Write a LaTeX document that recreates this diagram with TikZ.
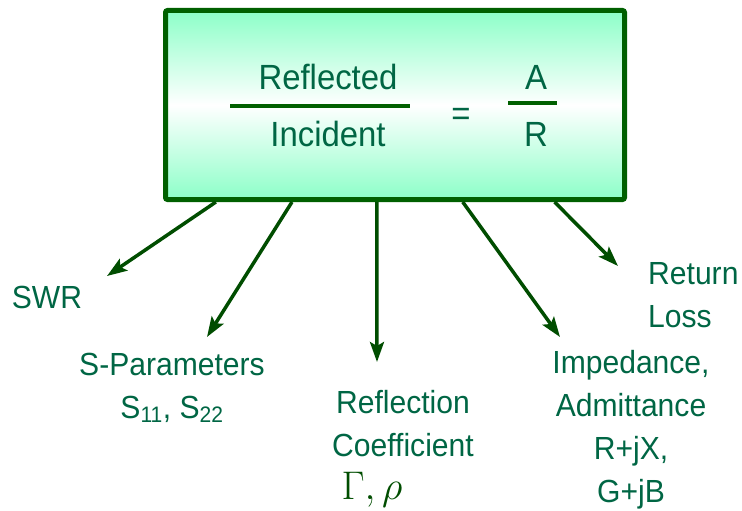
\documentclass[tikz,border=0pt]{standalone}
\usepackage{fix-cm}
\usepackage{fontspec}
\setmainfont[FakeStretch=0.94]{Liberation Sans}
\usepackage{xcolor}
\usepackage{tikz}
\usetikzlibrary{arrows.meta,positioning,calc}

\definecolor{txtgreen}{RGB}{0,102,68}
\definecolor{arrgreen}{RGB}{0,77,0}
\definecolor{boxgreen}{RGB}{0,96,0}
\definecolor{mint}{RGB}{140,255,200}

\begin{document}
\begin{tikzpicture}[
    x=1pt, y=-1pt,
    >={Stealth[length=20pt,width=14pt,inset=4pt]},
    mainbox/.style={draw=boxgreen,line width=5pt,rounded corners=2pt,
                    minimum width=459pt,minimum height=189pt,inner sep=0pt,
                    top color=mint,bottom color=mint,middle color=white},
    boxtxt/.style={text=txtgreen,inner sep=0pt,anchor=base,
                   font=\fontsize{35}{42}\selectfont},
    lbl/.style={text=txtgreen,inner sep=0pt,anchor=base,align=center,
                font=\fontsize{32}{43}\selectfont},
    fracbar/.style={draw=boxgreen,line width=4pt},
    outarrow/.style={->,draw=arrgreen,line width=3.5pt},
  ]
  \useasboundingbox (0,0) rectangle (742,511);

  % --- the ratio box ---
  \node[mainbox] (box) at (395,105) {};
  \node[boxtxt] (refl) at (328,90)  {Reflected};
  \node[boxtxt] (inc)  at (328,146) {Incident};
  \node[boxtxt] (eq)   at (461,125) {=};
  \node[boxtxt] (numA) at (536,90)  {A};
  \node[boxtxt] (denR) at (536,146) {R};
  \draw[fracbar] (230,106) -- (410,106);
  \draw[fracbar] (508,103) -- (557,103);

  % --- derived quantities (anchored on the last line) ---
  \node[lbl] (swr)  at (47,308)  {SWR};
  \node[lbl] (spar) at (172,418) {S-Parameters\\S\textsubscript{11}, S\textsubscript{22}};
  \node[lbl] (refc) at (403,499) {Reflection\\Coefficient\\
    {\fontsize{40}{43}\selectfont\textcolor{arrgreen}{$\Gamma, \rho$}}\hspace*{62pt}};
  \node[lbl] (imp)  at (631,502) {Impedance,\\Admittance\\R+jX,\\G+jB};
  \node[lbl,align=left,anchor=base west] (rl) at (648,327) {Return\\Loss};

  % --- arrow tips ---
  \coordinate (t1) at (107,276);
  \coordinate (t2) at (207,337);
  \coordinate (t3) at (377,362);
  \coordinate (t4) at (560,337);
  \coordinate (t5) at (618,266);

  % --- arrows out of the box ---
  \draw[outarrow] ($(box.south west)!0.114!(box.south east)$) -- (t1);
  \draw[outarrow] ($(box.south west)!0.278!(box.south east)$) -- (t2);
  \draw[outarrow] ($(box.south west)!0.461!(box.south east)$) -- (t3);
  \draw[outarrow] ($(box.south west)!0.646!(box.south east)$) -- (t4);
  \draw[outarrow] ($(box.south west)!0.844!(box.south east)$) -- (t5);

\end{tikzpicture}
\end{document}
